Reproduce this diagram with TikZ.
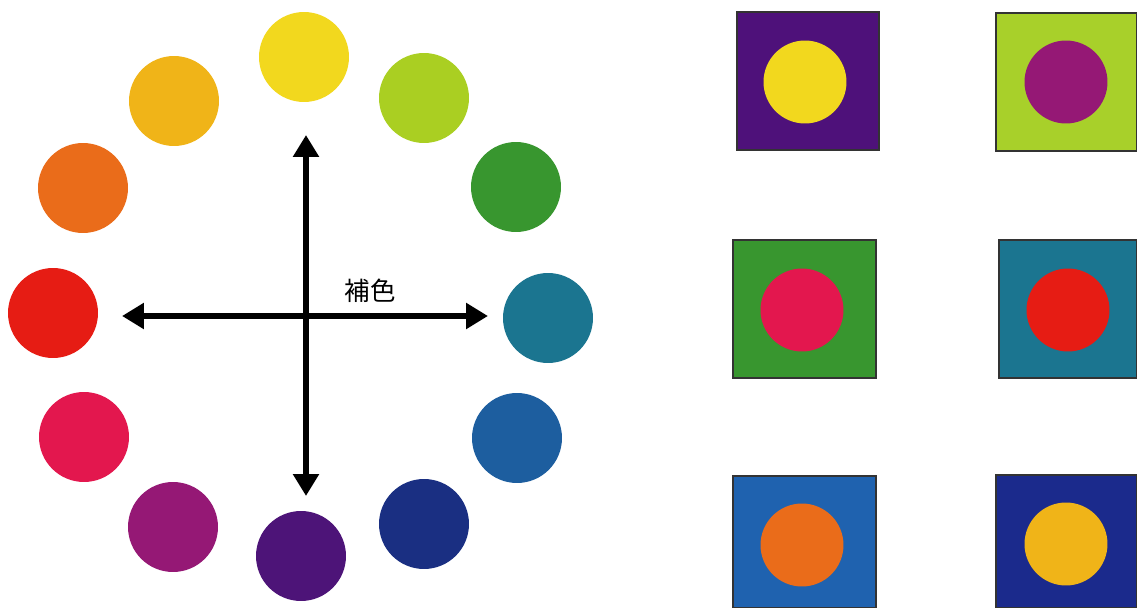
\documentclass[tikz,border=0pt]{standalone}
\usepackage{fontspec}
\newfontfamily\cjkfont{Noto Sans CJK JP}
\usetikzlibrary{arrows.meta}
\definecolor{cYel}{HTML}{F2D81E}
\definecolor{cYG}{HTML}{AACF22}
\definecolor{cGrn}{HTML}{38962F}
\definecolor{cTeal}{HTML}{1B7590}
\definecolor{cBlu}{HTML}{1D5E9F}
\definecolor{cDBlu}{HTML}{1A2F82}
\definecolor{cPur}{HTML}{4D1478}
\definecolor{cMag}{HTML}{951875}
\definecolor{cPink}{HTML}{E3174E}
\definecolor{cRed}{HTML}{E61C14}
\definecolor{cOra}{HTML}{EA6C1A}
\definecolor{cGold}{HTML}{F0B418}
\definecolor{sqPur}{HTML}{4E117A}
\definecolor{sqLime}{HTML}{A8D02A}
\definecolor{sqBlu}{HTML}{1F62AF}
\definecolor{sqDBlu}{HTML}{1B2A8C}
\tikzset{
  dot/.style={circle, inner sep=0pt, minimum size=1.8cm, fill=#1},
  sqdot/.style={circle, inner sep=0pt, minimum size=1.66cm, fill=#1},
  swatch/.style={draw=black!80, line width=0.6pt, fill=#1},
  bigarrow/.style={line width=3.3pt, {Triangle[length=0.44cm,width=0.5cm]}-{Triangle[length=0.44cm,width=0.5cm]}}
}
\begin{document}
\begin{tikzpicture}[x=0.02cm, y=-0.02cm, line cap=butt, line join=miter]
  \useasboundingbox (0,0) rectangle (1137,608);
  % colour wheel
  \foreach \nm/\px/\py/\col in {yel/304/57/cYel, yg/424/98/cYG, grn/516/187/cGrn, teal/548/318/cTeal, blu/517/438/cBlu, dblu/424/524/cDBlu, pur/301/556/cPur, mag/173/527/cMag, pink/84/437/cPink, red/53/313/cRed, ora/83/188/cOra, gold/174/101/cGold}
    \node[dot=\col] (w-\nm) at (\px,\py) {};
  \coordinate (top) at (306,135);
  \coordinate (bot) at (306,496);
  \coordinate (lft) at (122,316);
  \coordinate (rgt) at (488,316);
  \draw[bigarrow] (top) -- (bot);
  \draw[bigarrow] (lft) -- (rgt);
  \node[font=\cjkfont\fontsize{14.5}{14.5}\selectfont] (lbl) at (370,291) {補色};
  % complementary pairs
  \foreach \nm/\xa/\ya/\xb/\yb/\bg/\fg in {a/737/12/879/150/sqPur/cYel, b/996/13/1137/151/sqLime/cMag, c/733/240/876/378/cGrn/cPink, d/999/240/1137/378/cTeal/cRed, e/733/476/876/608/sqBlu/cOra, f/996/475/1137/608/sqDBlu/cGold}
    \draw[swatch=\bg] (\xa,\ya) rectangle (\xb,\yb);
  \foreach \nm/\px/\py/\col in {a/805/82/cYel, b/1066/82/cMag, c/802/310/cPink, d/1068/310/cRed, e/802/545/cOra, f/1066/544/cGold}
    \node[sqdot=\col] (s-\nm) at (\px,\py) {};
\end{tikzpicture}
\end{document}
